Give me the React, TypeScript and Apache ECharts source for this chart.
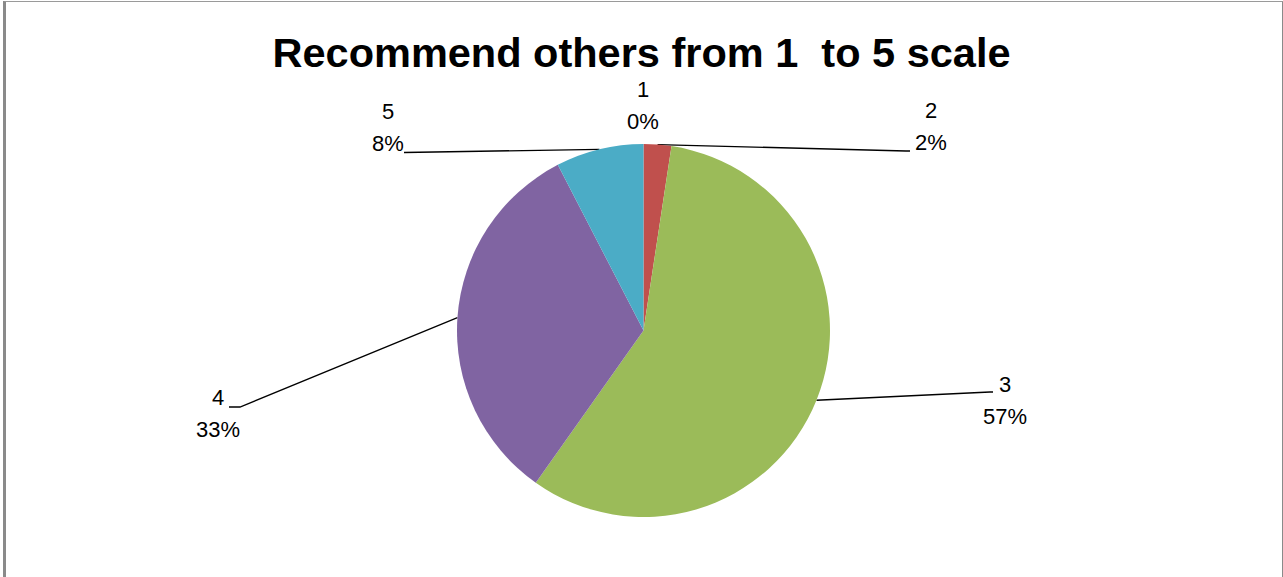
import React, { useEffect, useRef } from "react";
import * as echarts from "echarts";

// ---- data ----
const categories: string[] = ["1", "2", "3", "4", "5"];
const values: number[] = [0, 2.4, 57.4, 32.6, 7.6];
const sliceColors: string[] = ["#4F81BD", "#C0504D", "#9BBB59", "#8064A2", "#4BACC6"];
const titleText = "Recommend others from 1  to 5 scale";

// ---- label layout (style) ----
type LabelPos = { x: number; y: number; line?: number[][] };
const LABEL_LAYOUT: LabelPos[] = [
  { x: 643, y: 105 },
  { x: 931, y: 126.5, line: [[906, 151], [910, 151]] },
  { x: 1005, y: 400.5, line: [[990, 392], [993, 392]] },
  { x: 218, y: 413, line: [[240, 407], [229, 407]] },
  { x: 388, y: 127, line: [[404, 152.5], [408, 152.5]] },
];

const FONT = "'Liberation Sans', Arial, sans-serif";

export default function App() {
  const ref = useRef<HTMLDivElement>(null);

  useEffect(() => {
    if (!ref.current) return;
    const chart = echarts.init(ref.current, undefined, { renderer: "svg" });
    const total = values.reduce((a, b) => a + b, 0);
    chart.setOption({
      animation: false,
      backgroundColor: "#ffffff",
      title: {
        text: titleText,
        left: "center",
        top: 37,
        padding: 0,
        textStyle: {
          fontFamily: FONT,
          fontSize: 41.5,
          lineHeight: 31,
          fontWeight: "bold",
          color: "#000000",
        },
      },
      series: [
        {
          type: "pie",
          center: [643.5, 330.5],
          radius: 186.5,
          startAngle: 90,
          clockwise: true,
          avoidLabelOverlap: false,
          silent: true,
          emphasis: { disabled: true },
          itemStyle: { borderWidth: 0 },
          label: {
            show: true,
            position: "outside",
            fontFamily: FONT,
            fontSize: 22,
            lineHeight: 32,
            color: "#000000",
            align: "center",
            formatter: (p: any) =>
              `${p.name}\n${Math.round((p.value / total) * 100)}%`,
          },
          labelLine: {
            show: true,
            smooth: false,
            length: 10,
            length2: 10,
            lineStyle: { color: "#000000", width: 1.3 },
          },
          labelLayout: (params: any) => {
            const L = LABEL_LAYOUT[params.dataIndex];
            const res: any = {
              x: L.x,
              y: L.y,
              align: "center",
              verticalAlign: "middle",
            };
            if (L.line && params.labelLinePoints) {
              res.labelLinePoints = [params.labelLinePoints[0], ...L.line];
            }
            return res;
          },
          data: categories.map((c, i) => ({
            name: c,
            value: values[i],
            itemStyle: { color: sliceColors[i] },
            labelLine: { show: values[i] > 0 },
          })),
        },
      ],
    });
    return () => chart.dispose();
  }, []);

  return (
    <div style={{ position: "fixed", left: 0, top: 0, width: 1283, height: 577, background: "#fff" }}>
      <div ref={ref} style={{ position: "absolute", left: 0, top: 0, width: 1283, height: 577 }} />
      <div
        style={{
          position: "absolute",
          left: 3,
          top: 1,
          width: 1276,
          height: 575,
          borderLeft: "3px solid #8a8a8a",
          borderTop: "1px solid #9a9a9a",
          borderRight: "2px solid #8a8a8a",
          borderBottom: "1px solid #d8d8d8",
          pointerEvents: "none",
        }}
      />
    </div>
  );
}
